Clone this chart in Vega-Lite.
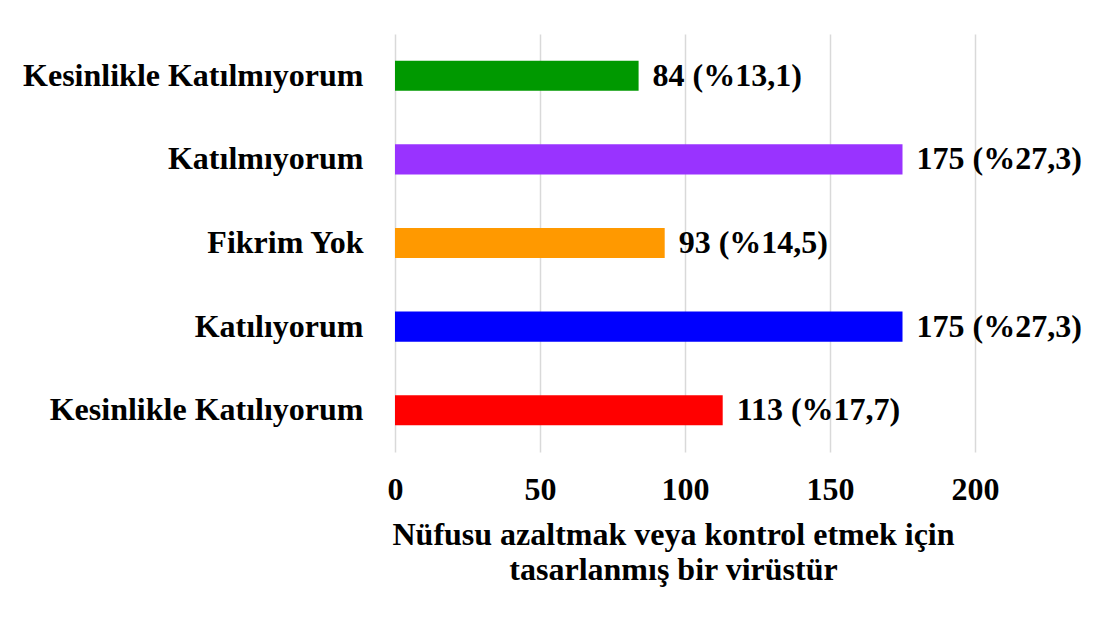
{
  "$schema": "https://vega.github.io/schema/vega-lite/v6.json",
  "width": 580,
  "height": 418,
  "autosize": {"type": "none"},
  "padding": {"left": 395, "top": 34, "right": 126, "bottom": 167},
  "background": "white",
  "config": {
    "view": {"stroke": null},
    "font": "Liberation Serif"
  },
  "data": {
    "values": [
      {"kategori": "Kesinlikle Katılmıyorum", "sayi": 84, "etiket": "84 (%13,1)", "renk": "#009900"},
      {"kategori": "Katılmıyorum", "sayi": 175, "etiket": "175 (%27,3)", "renk": "#9933FF"},
      {"kategori": "Fikrim Yok", "sayi": 93, "etiket": "93 (%14,5)", "renk": "#FF9900"},
      {"kategori": "Katılıyorum", "sayi": 175, "etiket": "175 (%27,3)", "renk": "#0000FF"},
      {"kategori": "Kesinlikle Katılıyorum", "sayi": 113, "etiket": "113 (%17,7)", "renk": "#FF0000"}
    ]
  },
  "encoding": {
    "y": {
      "field": "kategori",
      "type": "nominal",
      "sort": null,
      "scale": {"paddingInner": 0.64, "paddingOuter": 0.32},
      "axis": {
        "title": null,
        "domain": false,
        "ticks": false,
        "labelPadding": 32,
        "labelFont": "Liberation Serif",
        "labelFontSize": 32,
        "labelFontWeight": "bold",
        "labelColor": "black",
        "labelLimit": 500
      }
    },
    "x": {
      "field": "sayi",
      "type": "quantitative",
      "scale": {"domain": [0, 200], "nice": false},
      "axis": {
        "values": [0, 50, 100, 150, 200],
        "title": ["Nüfusu azaltmak veya kontrol etmek için", "tasarlanmış bir virüstür"],
        "titleFont": "Liberation Serif",
        "titleFontSize": 32,
        "titleFontWeight": "bold",
        "titleColor": "black",
        "titlePadding": 14,
        "titleLineHeight": 35,
        "titleX": 278,
        "domain": false,
        "ticks": false,
        "grid": true,
        "gridColor": "#d9d9d9",
        "gridWidth": 1.5,
        "labelFlush": false,
        "labelPadding": 22,
        "labelFont": "Liberation Serif",
        "labelFontSize": 32,
        "labelFontWeight": "bold",
        "labelColor": "black"
      }
    }
  },
  "layer": [
    {
      "mark": {"type": "bar"},
      "encoding": {
        "color": {"field": "renk", "type": "nominal", "scale": null, "legend": null}
      }
    },
    {
      "mark": {"type": "text", "align": "left", "dx": 14, "font": "Liberation Serif", "fontSize": 32, "fontWeight": "bold", "color": "black"},
      "encoding": {
        "text": {"field": "etiket", "type": "nominal"}
      }
    }
  ]
}
